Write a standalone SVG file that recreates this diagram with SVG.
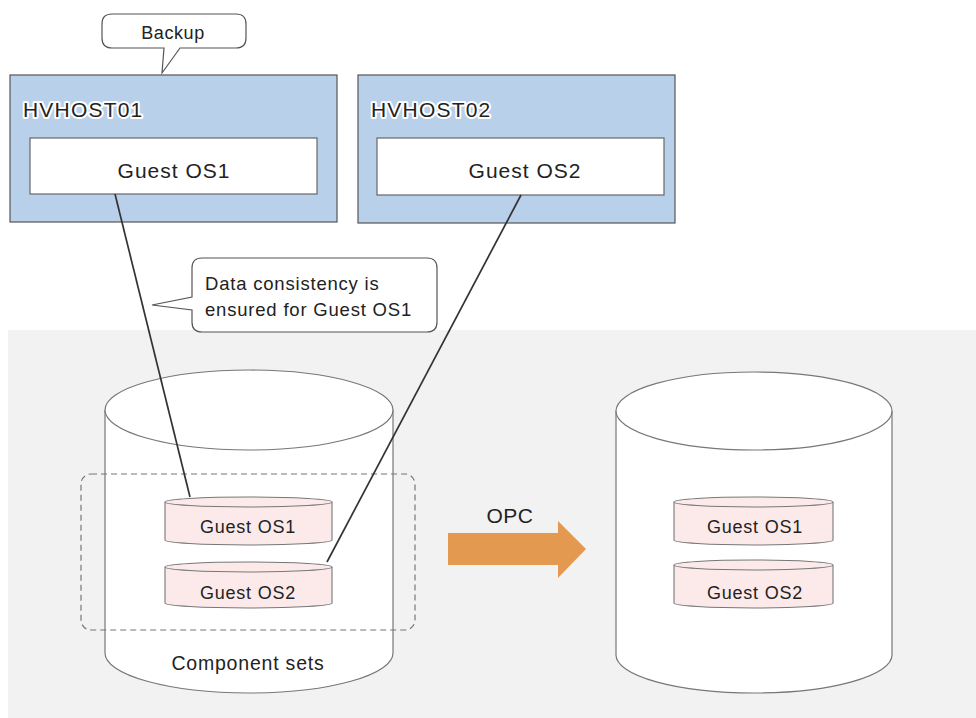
<svg xmlns="http://www.w3.org/2000/svg" width="976" height="718" viewBox="0 0 976 718">
<style>
text{font-family:"Liberation Sans","DejaVu Sans",sans-serif;fill:#222}
.host{fill:#b9d0ea;stroke:#555;stroke-width:1.2}
.inner{fill:#fff;stroke:#666;stroke-width:1.2}
.hlabel{font-size:21px;letter-spacing:1.2px;stroke:#fff;stroke-width:4;paint-order:stroke;stroke-linejoin:round}
.gl{font-size:21px;letter-spacing:1px;text-anchor:middle}
.call{fill:#fff;stroke:#555;stroke-width:1.2}
.ct{font-size:18.5px;letter-spacing:0.8px}
.cyl{fill:#fff;stroke:#777;stroke-width:1.2}
.disk{fill:#fceaea;stroke:#777;stroke-width:1.1}
.dl{font-size:18px;letter-spacing:0.8px;text-anchor:middle}
.conn{stroke:#333;stroke-width:1.7;fill:none}
</style>
<rect x="8" y="330" width="968" height="388" fill="#f2f2f2"/>

<g id="backup-callout">
<path class="call" d="M112,14 H236 Q246,14 246,24 V38 Q246,48 236,48 H180 L162,73 L164,48 H112 Q102,48 102,38 V24 Q102,14 112,14 Z"/>
<text x="173" y="39" font-size="18" letter-spacing="0.6" text-anchor="middle">Backup</text>
</g>

<g id="hvhost01">
<rect class="host" x="10" y="75" width="327" height="147"/>
<text class="hlabel" x="23" y="117">HVHOST01</text>
<rect class="inner" x="30" y="138" width="287" height="56"/>
<text class="gl" x="174" y="178">Guest OS1</text>
</g>

<g id="hvhost02">
<rect class="host" x="358" y="75" width="317" height="148"/>
<text class="hlabel" x="371" y="117">HVHOST02</text>
<rect class="inner" x="377" y="138" width="287" height="57"/>
<text class="gl" x="525" y="178">Guest OS2</text>
</g>

<g id="consistency-callout">
<path class="call" d="M202,258 H427 Q437,258 437,268 V322 Q437,332 427,332 H202 Q192,332 192,322 V310 L152,305 L192,297 V268 Q192,258 202,258 Z"/>
<text class="ct" x="205" y="290">Data consistency is</text>
<text class="ct" x="205" y="316">ensured for Guest OS1</text>
</g>

<g id="source-volume">
<path class="cyl" d="M105,410 V653 A144,40 0 0 0 393,653 V410"/>
<ellipse class="cyl" cx="249" cy="410" rx="144" ry="40"/>
<text x="248" y="670" font-size="19.5" letter-spacing="0.8" text-anchor="middle">Component sets</text>
</g>

<g id="component-set">
<rect x="81" y="474" width="334" height="156" rx="10" fill="none" stroke="#777" stroke-width="1.2" stroke-dasharray="6,4"/>
</g>

<g id="src-disk1">
<path class="disk" d="M165,502 V540 A83.5,5 0 0 0 332,540 V502"/>
<ellipse class="disk" cx="248.5" cy="502" rx="83.5" ry="5"/>
<text class="dl" x="248" y="533">Guest OS1</text>
</g>
<g id="src-disk2">
<path class="disk" d="M165,567 V603 A83.5,5 0 0 0 332,603 V567"/>
<ellipse class="disk" cx="248.5" cy="567" rx="83.5" ry="5"/>
<text class="dl" x="248" y="599">Guest OS2</text>
</g>

<g id="opc-arrow">
<path d="M448,533 H558 V521 L586,549 L558,578 V565 H448 Z" fill="#e39a50"/>
<text x="510" y="523" font-size="21" letter-spacing="0.5" text-anchor="middle">OPC</text>
</g>

<g id="target-volume">
<path class="cyl" d="M616,411 V655 A138,38 0 0 0 892,655 V411"/>
<ellipse class="cyl" cx="754" cy="411" rx="138" ry="39"/>
</g>
<g id="dst-disk1">
<path class="disk" d="M674,502 V540 A79.5,5 0 0 0 833,540 V502"/>
<ellipse class="disk" cx="753.5" cy="502" rx="79.5" ry="5"/>
<text class="dl" x="755" y="533">Guest OS1</text>
</g>
<g id="dst-disk2">
<path class="disk" d="M674,565 V603 A79.5,5 0 0 0 833,603 V565"/>
<ellipse class="disk" cx="753.5" cy="565" rx="79.5" ry="5"/>
<text class="dl" x="755" y="599">Guest OS2</text>
</g>

<g id="connectors">
<line class="conn" x1="115" y1="194" x2="190" y2="497"/>
<line class="conn" x1="521" y1="195" x2="327" y2="562"/>
</g>
</svg>
